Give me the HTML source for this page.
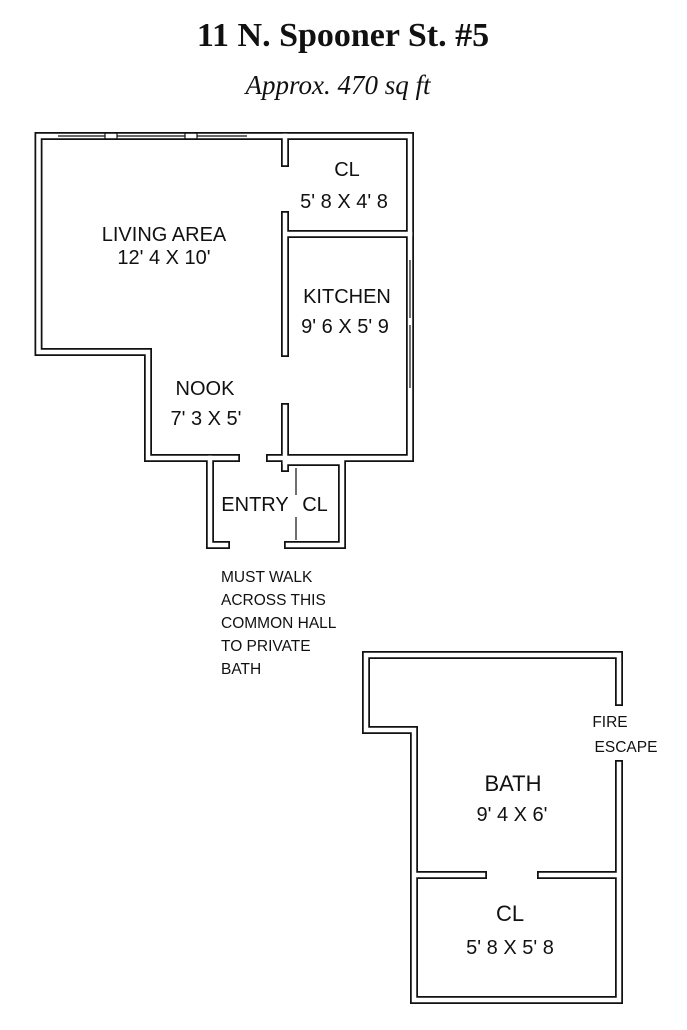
<!DOCTYPE html>
<html><head><style>
body{margin:0;background:#fff;}
svg{display:block}
text{font-family:"Liberation Sans",sans-serif;fill:#111;}
</style></head><body>
<svg width="687" height="1030" viewBox="0 0 687 1030">
<text x="343" y="46" text-anchor="middle" style="font-family:'Liberation Serif',serif;font-weight:bold;font-size:34px">11 N. Spooner St. #5</text>
<text x="338" y="94" text-anchor="middle" style="font-family:'Liberation Serif',serif;font-style:italic;font-size:27px">Approx. 470 sq ft</text>
<g fill="none" stroke-linecap="square">
<g stroke="#111" stroke-width="8">
<path d="M38.5 136 H410 V458 H270 M236 458 H148 V352 H38.5 V136"/>
<path d="M285 136 V163 M285 215 V353 M285 407 V468 M285 234 H410"/>
<path d="M210 458 V545 H226 M288 545 H342 V462 M285 462 H342"/>
<path d="M366 655 H619 V702 M619 764 V1000 H414 V730 H366 V655 M414 875 H483 M541 875 H619"/>
</g>
<g stroke="#fff" stroke-width="4.5">
<path d="M38.5 136 H410 V458 H270 M236 458 H148 V352 H38.5 V136"/>
<path d="M285 136 V163 M285 215 V353 M285 407 V468 M285 234 H410"/>
<path d="M210 458 V545 H226 M288 545 H342 V462 M285 462 H342"/>
<path d="M366 655 H619 V702 M619 764 V1000 H414 V730 H366 V655 M414 875 H483 M541 875 H619"/>
</g>
</g>
<g stroke="#111" stroke-width="1.2" fill="none">
<path d="M58 136 H105 M117 136 H185 M197 136 H247"/>
<path d="M105 132 V140 M117 132 V140 M185 132 V140 M197 132 V140"/>
<path d="M410 260 V318 M410 325 V388"/>
<path d="M296 468 V495 M296 517 V540"/>
</g>
<g font-size="20">
<text x="347" y="176" text-anchor="middle">CL</text>
<text x="344" y="208" text-anchor="middle">5' 8 X 4' 8</text>
<text x="164" y="241" text-anchor="middle">LIVING AREA</text>
<text x="164" y="264" text-anchor="middle">12' 4 X 10'</text>
<text x="347" y="303" text-anchor="middle">KITCHEN</text>
<text x="345" y="333" text-anchor="middle">9' 6 X 5' 9</text>
<text x="205" y="395" text-anchor="middle">NOOK</text>
<text x="206" y="425" text-anchor="middle">7' 3 X 5'</text>
<text x="255" y="511" text-anchor="middle">ENTRY</text>
<text x="315" y="511" text-anchor="middle">CL</text>
</g>
<g font-size="15.5">
<text x="221" y="582">MUST WALK</text>
<text x="221" y="605">ACROSS THIS</text>
<text x="221" y="628">COMMON HALL</text>
<text x="221" y="651">TO PRIVATE</text>
<text x="221" y="674">BATH</text>
<text x="610" y="727" text-anchor="middle">FIRE</text>
<text x="626" y="752" text-anchor="middle">ESCAPE</text>
</g>
<g font-size="22">
<text x="513" y="791" text-anchor="middle">BATH</text>
<text x="510" y="921" text-anchor="middle">CL</text>
</g>
<g font-size="20">
<text x="512" y="821" text-anchor="middle">9' 4 X 6'</text>
<text x="510" y="954" text-anchor="middle">5' 8 X 5' 8</text>
</g>
</svg>
</body></html>
